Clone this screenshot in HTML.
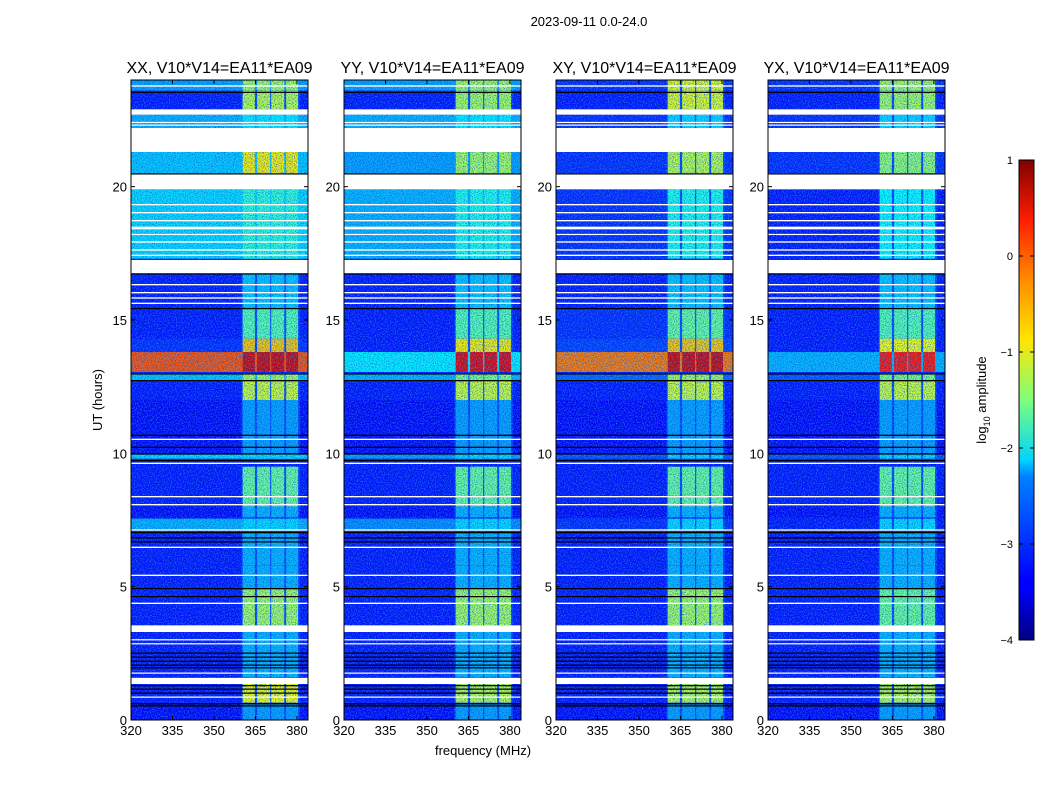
<!DOCTYPE html>
<html><head><meta charset="utf-8">
<style>
html,body{margin:0;padding:0;background:#fff;}
svg{display:block;font-family:"Liberation Sans",sans-serif;}
</style></head>
<body>
<svg id="chart" width="1050" height="800" viewBox="0 0 1050 800">
<defs>
<filter id="speckle" x="0" y="0" width="100%" height="100%">
<feTurbulence type="fractalNoise" baseFrequency="0.9" numOctaves="1" seed="3" result="n"/>
<feColorMatrix type="matrix" values="0 0 0 0 0  0 0 0 0 0.05  0 0 0 0 0.55  0 0 0 -3 1.7"/>
</filter>
<filter id="speckle2" x="0" y="0" width="100%" height="100%">
<feTurbulence type="fractalNoise" baseFrequency="0.85" numOctaves="1" seed="11" result="n"/>
<feColorMatrix type="matrix" values="0 0 0 0 0.1  0 0 0 0 0.75  0 0 0 0 1  0 0 0 -3 1.65"/>
</filter>
<linearGradient id="jet" x1="0" y1="1" x2="0" y2="0">
<stop offset="0" stop-color="#000080"/><stop offset="0.11" stop-color="#0000ff"/>
<stop offset="0.125" stop-color="#0000ff"/><stop offset="0.34" stop-color="#0080ff"/>
<stop offset="0.375" stop-color="#00d4ff"/><stop offset="0.5" stop-color="#7dff7a"/>
<stop offset="0.625" stop-color="#ffe600"/><stop offset="0.75" stop-color="#ff8c00"/>
<stop offset="0.875" stop-color="#ff1e00"/><stop offset="1" stop-color="#800000"/>
</linearGradient>
</defs>
<text x="589" y="26" font-size="13" text-anchor="middle">2023-09-11 0.0-24.0</text>
<g id="panels"></g>
<text x="102" y="400" font-size="13" text-anchor="middle" transform="rotate(-90 102 400)">UT (hours)</text>
<text x="483" y="755" font-size="13" text-anchor="middle">frequency (MHz)</text>
<g id="colorbar"></g>
</svg>
<script>
const panelTitles = ["XX, V10*V14=EA11*EA09","YY, V10*V14=EA11*EA09","XY, V10*V14=EA11*EA09","YX, V10*V14=EA11*EA09"];
const xTicks = [320,335,350,365,380];
const yTicks = [0,5,10,15,20];
const cbTicks = [1,0,-1,-2,-3,-4];
const cbTickLabels = ["1","0","\u22121","\u22122","\u22123","\u22124"];
const segStart = [23.6,22.9,22.2,20.5,17.3,15.45,14.3,13.8,13.05,12.75,12.0,10.0,9.8,8.0,7.6,7.1,5.8,4.9,3.55,1.6,0.65,0.0];
const segEnd   = [24.0,23.6,22.7,21.3,19.9,16.75,15.45,14.3,13.8,13.0,12.7,12.0,9.95,9.5,8.0,7.55,7.0,5.8,4.9,3.3,1.35,0.6];
const baseXX = [-2.6,-3.3,-2.5,-2.4,-2.3,-3.3,-3.3,-3.2,0.0,-2.4,-3.3,-3.4,-2.3,-3.3,-3.4,-2.5,-3.3,-3.3,-3.3,-3.3,-3.3,-3.4];
const baseYY = [-2.6,-3.3,-2.5,-2.6,-2.5,-3.3,-3.3,-3.3,-2.2,-2.5,-3.3,-3.4,-2.6,-3.3,-3.4,-2.7,-3.3,-3.3,-3.3,-3.3,-3.3,-3.4];
const baseXY = [-3.2,-3.3,-3.2,-3.2,-3.2,-3.3,-3.2,-3.1,-0.2,-2.9,-3.3,-3.4,-3.0,-3.3,-3.4,-3.2,-3.3,-3.3,-3.3,-3.3,-3.3,-3.4];
const baseYX = [-3.2,-3.3,-3.2,-3.2,-3.3,-3.3,-3.3,-3.3,-2.5,-3.0,-3.3,-3.4,-3.0,-3.3,-3.4,-3.3,-3.3,-3.3,-3.3,-3.3,-3.3,-3.4];
const blkXX = [-1.3,-1.2,-2.2,-0.8,-1.9,-2.4,-1.7,-0.6,0.6,-1.3,-1.1,-2.6,-2.3,-1.6,-2.5,-2.3,-2.5,-2.5,-1.3,-2.5,-0.9,-2.6];
const blkYY = [-1.3,-1.3,-2.2,-1.3,-2.0,-2.4,-1.7,-0.8,0.5,-1.5,-1.1,-2.6,-2.3,-1.6,-2.5,-2.3,-2.5,-2.5,-1.3,-2.5,-1.2,-2.6];
const blkXY = [-1.0,-1.0,-2.3,-1.2,-2.0,-2.4,-1.6,-0.6,0.6,-1.3,-1.1,-2.6,-2.3,-1.6,-2.5,-2.3,-2.5,-2.5,-1.3,-2.5,-1.2,-2.6];
const blkYX = [-1.3,-1.3,-2.3,-1.4,-2.1,-2.4,-1.7,-0.9,0.3,-1.5,-1.1,-2.6,-2.3,-1.6,-2.5,-2.3,-2.5,-2.5,-1.6,-2.5,-1.2,-2.6];
const blockF0 = [360.4,365.6,370.7,376.1];
const blockF1 = [364.8,370.3,375.4,380.4];
const whiteT0 = [23.75,22.7,22.4,22.3,21.3,19.9,19.3,19.0,18.7,18.4,18.2,17.9,17.6,17.4,16.75,16.3,16.0,15.8,15.6,10.5,9.6,8.35,8.05,7.1,6.45,5.4,4.35,3.3,3.0,2.85,1.75,1.35,0.85];
const whiteT1 = [23.8,22.9,22.43,22.33,22.2,20.5,19.35,19.05,18.75,18.5,18.23,17.95,17.65,17.45,17.25,16.35,16.05,15.85,15.65,10.55,9.65,8.4,8.1,7.15,6.5,5.45,4.4,3.55,3.03,2.88,1.78,1.58,0.88];
const blackT0 = [23.52,20.45,16.7,15.42,12.95,12.7,10.65,10.2,9.95,9.7,7.0,6.8,6.65,4.9,4.6,2.5,2.35,2.2,2.05,1.95,1.28,1.15,1.0,0.6,0.52];
const blackT1 = [23.56,20.5,16.75,15.45,13.0,12.75,10.7,10.25,10.0,9.75,7.05,6.85,6.7,4.95,4.65,2.53,2.38,2.23,2.08,1.98,1.31,1.18,1.03,0.63,0.55];

const bases=[baseXX,baseYY,baseXY,baseYX], blks=[blkXX,blkYY,blkXY,blkYX];
const panelLeft=[131,344,556,768], PW=177, PT=80, PB=720;
const F0=320, F1=384, T0=0, T1=24;
const NS='http://www.w3.org/2000/svg';
function jet(v){
  let t=(v+4)/5; t=Math.max(0,Math.min(1,t));
  const c=x=>Math.round(255*Math.max(0,Math.min(1,x)));
  const r=1.5-Math.abs(4*t-3), g=1.5-Math.abs(4*t-2), b=1.5-Math.abs(4*t-1);
  return `rgb(${c(r)},${c(g)},${c(b)})`;
}
function mk(tag,attrs,parent){const e=document.createElementNS(NS,tag);for(const k in attrs)e.setAttribute(k,attrs[k]);parent.appendChild(e);return e;}
const root=document.getElementById('panels');
const names=['xx','yy','xy','yx'];
for(let p=0;p<4;p++){
  const L=panelLeft[p];
  const xs=f=>L+(f-F0)/(F1-F0)*PW;
  const ys=t=>PB-(t-T0)/(T1-T0)*(PB-PT);
  const g=mk('g',{},root);
  
  
  const bg=mk('rect',{x:L,y:PT,width:PW,height:PB-PT,fill:jet(-3.3)},g);
  
  
  for(let i=0;i<segStart.length;i++){
    const y0=ys(segEnd[i]), y1=ys(segStart[i]);
    const r=mk('rect',{x:L,y:y0,width:PW,height:y1-y0,fill:jet(bases[p][i])},g);
    
    
    const bandBase=Math.max(bases[p][i],-3.05);
    const rb=mk('rect',{x:xs(360),y:y0,width:xs(381)-xs(360),height:y1-y0,fill:jet(bandBase)},g);
    
    
    for(let b=0;b<blockF0.length;b++){
      const bl=mk('rect',{x:xs(blockF0[b]),y:y0,width:xs(blockF1[b])-xs(blockF0[b]),height:y1-y0,fill:jet(blks[p][i])},g);
      
      
    }
  }
  const sp=mk('rect',{x:L,y:PT,width:PW,height:PB-PT,filter:'url(#speckle)',opacity:0.7},g);
  
  
  const sp2=mk('rect',{x:L,y:PT,width:PW,height:PB-PT,filter:'url(#speckle2)',opacity:0.45},g);
  
  
  for(let i=0;i<whiteT0.length;i++){
    const r=mk('rect',{x:L,y:ys(whiteT1[i]),width:PW,height:Math.max(1.2,ys(whiteT0[i])-ys(whiteT1[i])),fill:'#fff'},g);
    
    
  }
  for(let i=0;i<blackT0.length;i++){
    const r=mk('rect',{x:L,y:ys(blackT1[i]),width:PW,height:1.2,fill:'#000'},g);
    
    
  }
  const fr=mk('rect',{x:L,y:PT,width:PW,height:PB-PT,fill:'none',stroke:'#000','stroke-width':1},g);
  
  
  const tt=mk('text',{x:L+PW/2,y:73,'font-size':16,'text-anchor':'middle'},g);
  tt.textContent=panelTitles[p];
  
  
  for(const f of xTicks){
    const x=xs(f);
    mk('line',{x1:x,y1:PB,x2:x,y2:PB-4,stroke:'#000'},g);
    mk('line',{x1:x,y1:PT,x2:x,y2:PT+4,stroke:'#000'},g);
    const t=mk('text',{x:x,y:PB+15,'font-size':13,'text-anchor':'middle'},g);
    t.textContent=f;
    
    
  }
  for(const v of yTicks){
    const y=ys(v);
    mk('line',{x1:L,y1:y,x2:L+4,y2:y,stroke:'#000'},g);
    mk('line',{x1:L+PW,y1:y,x2:L+PW-4,y2:y,stroke:'#000'},g);
    const t=mk('text',{x:L-4,y:y+5,'font-size':13,'text-anchor':'end'},g);
    t.textContent=v;
    
    
  }
}
const cb=document.getElementById('colorbar');
const CX=1019,CW=15,CT=160,CB=640;
const cbs=v=>CB-(v+4)/5*(CB-CT);
const cr=mk('rect',{x:CX,y:CT,width:CW,height:CB-CT,fill:'url(#jet)',stroke:'#000','stroke-width':1},cb);


for(let i=0;i<cbTicks.length;i++){
  const y=cbs(cbTicks[i]);
  mk('line',{x1:CX,y1:y,x2:CX+4,y2:y,stroke:'#000'},cb);
  mk('line',{x1:CX+CW,y1:y,x2:CX+CW-4,y2:y,stroke:'#000'},cb);
  const t=mk('text',{x:1013,y:y+4,'font-size':11,'text-anchor':'end'},cb);
  t.textContent=cbTickLabels[i];
  
  
}
const cl=mk('text',{x:986,y:400,'font-size':13,'text-anchor':'middle',transform:'rotate(-90 986 400)'},cb);
cl.innerHTML='log<tspan font-size="9" dy="4">10</tspan><tspan dy="-4"> amplitude</tspan>';


</script>
</body></html>
